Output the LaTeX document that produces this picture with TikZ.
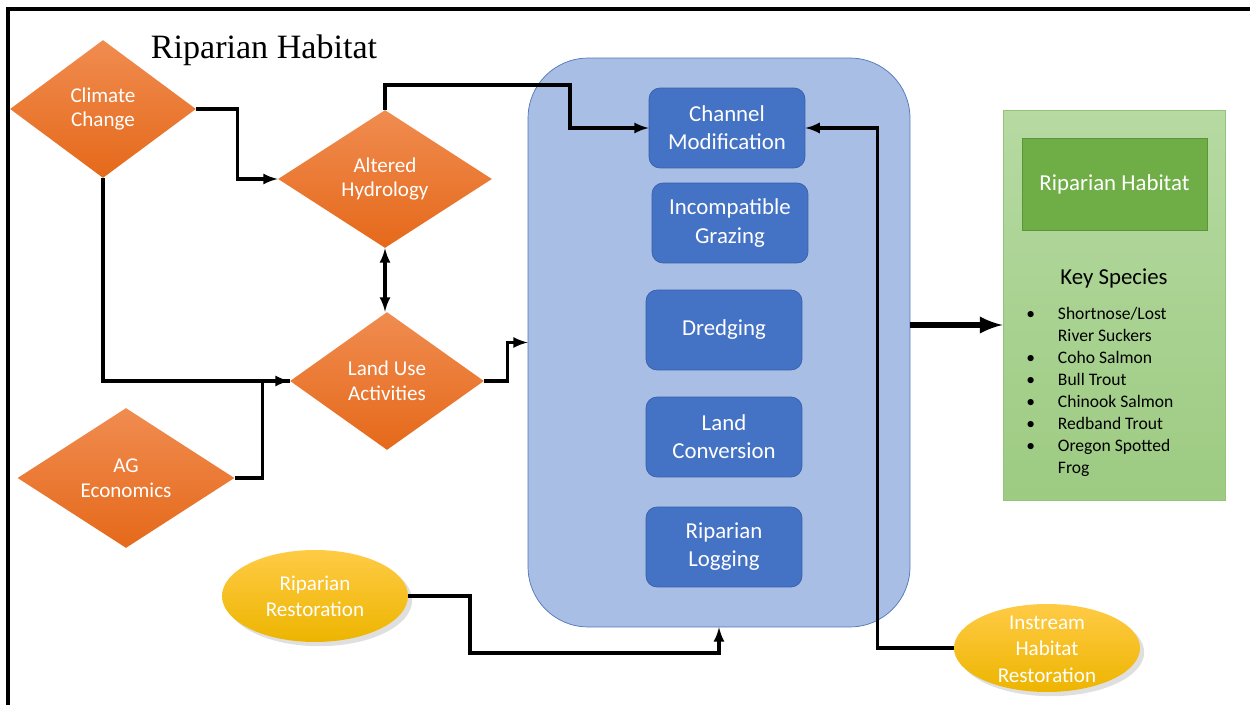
\documentclass[tikz,border=0pt]{standalone}
\usepackage{fontspec}
\setmainfont{Carlito}
\newfontfamily\titlefont{Liberation Serif}
\usetikzlibrary{shapes.geometric,shadows}

\definecolor{hazardtop}{HTML}{F08C50}
\definecolor{hazardbot}{HTML}{E5691A}
\definecolor{panelfill}{HTML}{A8BEE5}
\definecolor{paneledge}{HTML}{4F74B8}
\definecolor{actfill}{HTML}{4472C4}
\definecolor{actedge}{HTML}{3760A8}
\definecolor{habtop}{HTML}{B6DAA2}
\definecolor{habbot}{HTML}{9DCB82}
\definecolor{habedge}{HTML}{93C47A}
\definecolor{habhead}{HTML}{6FAD46}
\definecolor{habheadedge}{HTML}{5B9537}
\definecolor{resttop}{HTML}{FFCB45}
\definecolor{restbot}{HTML}{EDB500}

\tikzstyle{hazard} = [diamond, aspect=1.4, inner sep=0pt, minimum height=2.76cm, top color=hazardtop, bottom color=hazardbot, text=white, align=center, font=\fontsize{12}{14}\selectfont]
\tikzstyle{activity} = [rectangle, rounded corners=0.22cm, draw=actedge, fill=actfill, text=white, align=center, minimum width=3.12cm, minimum height=1.6cm, font=\fontsize{13}{16}\selectfont]
\tikzstyle{restore} = [ellipse, inner sep=0pt, minimum width=3.72cm, top color=resttop, bottom color=restbot, text=white, align=center, drop shadow={opacity=0.25}, font=\fontsize{12}{15}\selectfont]
\tikzstyle{link} = [->, line width=1.8pt]

\begin{document}
\begin{tikzpicture}[x=0.02cm, y=-0.02cm, >=latex]
   \useasboundingbox (0,0) rectangle (1250,705);
   \draw[line width=2.2pt] (8,705) -- (8,9) -- (1250,9);
   \node (Title) at (264,50) {\titlefont\fontsize{19.4}{22}\selectfont Riparian Habitat};

%  drivers
   \node (Climate) at (103,109) [hazard, minimum width=3.72cm] {Climate\\Change};
   \node (Altered) at (385,179) [hazard, minimum width=4.28cm] {Altered\\Hydrology};
   \node (LandUse) at (387,381) [hazard, minimum width=3.88cm] {Land Use\\Activities};
   \node (AgEcon) at (126,478) [hazard, minimum width=4.34cm, minimum height=2.8cm] {AG\\Economics};

%  stressors
   \node (Panel) at (719,342.5) [rectangle, rounded corners=1.2cm, draw=paneledge, fill=panelfill, minimum width=7.64cm, minimum height=11.38cm] {};
   \node (Channel) at (727,128) [activity] {Channel\\Modification};
   \node (Grazing) at (730,223) [activity] {Incompatible\\Grazing};
   \node (Dredging) at (724,330) [activity] {Dredging};
   \node (Conversion) at (724,437) [activity] {Land\\Conversion};
   \node (Logging) at (724,547) [activity] {Riparian\\Logging};

%  restoration
   \node (RipRestore) at (315,596) [restore, minimum height=1.84cm] {Riparian\\Restoration};
   \node (Instream) at (1047,648) [restore, minimum height=1.76cm] {\smash{\raisebox{-4.5pt}{\begin{tabular}{@{}c@{}}Instream\\Habitat\\Restoration\end{tabular}}}};

%  habitat
   \node (Habitat) at (1114,305) [rectangle, draw=habedge, top color=habtop, bottom color=habbot, minimum width=4.44cm, minimum height=7.8cm] {};
   \node (HabitatHead) at (1114.5,184) [rectangle, draw=habheadedge, fill=habhead, text=white, minimum width=3.7cm, minimum height=1.84cm, font=\fontsize{13}{16}\selectfont] {Riparian Habitat};
   \node (KeySpecies) at (1114,278) [font=\fontsize{13}{16}\selectfont] {Key Species};
   \node (SpeciesList) at (1026,304) [anchor=north west, inner sep=0pt, font=\fontsize{10}{12.5}\selectfont] {\begin{tabular}{@{}l@{\hspace{13pt}}l@{}}
      \textbullet & Shortnose/Lost\\
                  & River Suckers\\
      \textbullet & Coho Salmon\\
      \textbullet & Bull Trout\\
      \textbullet & Chinook Salmon\\
      \textbullet & Redband Trout\\
      \textbullet & Oregon Spotted\\
                  & Frog
   \end{tabular}};

%  connectors
   \draw[link] (Climate.east) -- ++(41,0) |- (Altered.west);
   \draw[link] (Climate.south) |- (LandUse.west);
   \draw[line width=1.8pt] (AgEcon.east) -- ++(28,0) |- (LandUse.west);
   \draw[<->, line width=1.8pt] (Altered.south) -- (Altered.south |- LandUse.north);
   \coordinate (bendA) at (570,85);
   \draw[link] (Altered.north) |- (bendA) |- (Channel.west);
   \draw[link] (LandUse.east) -- ++(23,0) |- (Panel.west);
   \coordinate (bendR) at (470,653);
   \draw[link] (RipRestore.east) -| (bendR) -| (Panel.south);
   \draw[link] (Instream.west) -- ++(-76,0) |- (Channel.east);
   \coordinate (arrowStart) at ([yshift=0.35cm]Panel.east);
   \draw[->, line width=3.4pt] (arrowStart) -- (arrowStart -| Habitat.west);
\end{tikzpicture}
\end{document}
